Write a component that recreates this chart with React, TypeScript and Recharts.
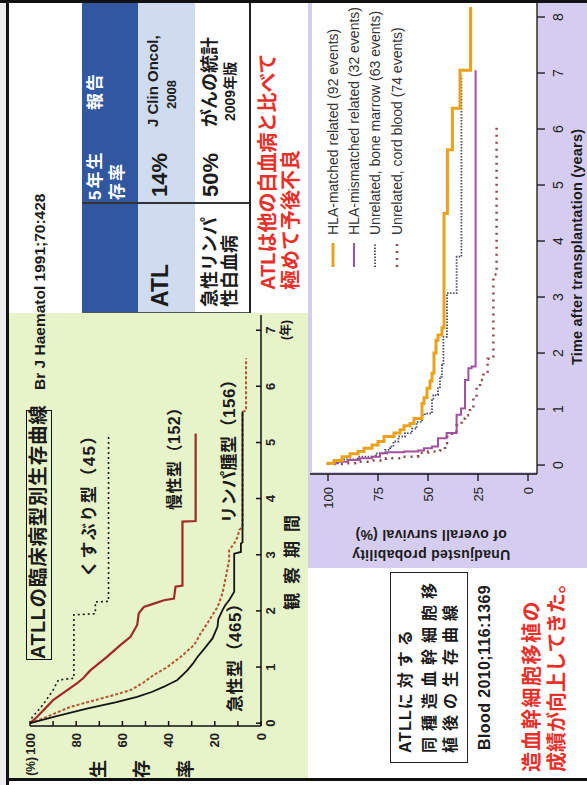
import React from 'react';
import { LineChart, Line, XAxis, YAxis } from 'recharts';

// ---------- Chart 1: ATLL clinical subtypes (years, survival %) ----------
const ATL_YEARS = [0, 1, 2, 3, 4, 5, 6, 7];
const ATL_PCT = [0, 10, 20, 30, 40, 50, 60, 70, 80, 90, 100];

const ACUTE_T = [0, 0.13, 0.26, 0.37, 0.47, 0.56, 0.65, 0.77, 0.94, 1.06, 1.18, 1.36, 1.51, 1.72, 1.85, 2.01, 2.1, 2.19, 2.34, 3.02, 3.05, 3.2, 3.22, 5.55];
const ACUTE_S = [100, 88, 75.4, 63, 53.6, 47, 42, 36.2, 31.9, 29.5, 27.5, 23.9, 21, 18.8, 18.5, 16.7, 15.5, 13.8, 11.6, 11.6, 8.7, 8.7, 8, 8];

const CHRONIC_T = [0, 0.11, 0.41, 0.71, 0.8, 0.94, 1.18, 1.39, 1.54, 1.75, 1.96, 2.07, 2.13, 2.19, 2.22, 2.43, 2.45, 3.59, 3.6, 5.16];
const CHRONIC_S = [100, 97, 90, 79.7, 77, 73.9, 66.7, 60.9, 56.5, 53.6, 52.9, 50.7, 46.4, 42, 37.7, 37, 34, 34, 28.3, 28.3];

const LYMPH_T = [0, 0.09, 0.29, 0.5, 0.59, 0.72, 0.86, 1.0, 1.18, 1.39, 1.6, 1.78, 1.93, 2.07, 2.31, 2.61, 2.9, 3.08, 3.2, 3.32, 3.44, 3.5, 5.55, 5.56, 6.5];
const LYMPH_S = [100, 94, 82.6, 63.8, 56.5, 51, 46.4, 40.6, 34.8, 29, 26.1, 23.2, 21, 18.8, 16.7, 15.2, 13.8, 13.8, 11.6, 10.1, 9.4, 8, 8, 6.5, 6.5];

const SMOLD_T = [0, 0.11, 0.2, 0.35, 0.5, 0.59, 0.77, 0.8, 1.93, 1.95, 2.16, 2.17, 5.13];
const SMOLD_S = [100, 99, 97, 94, 91.5, 90, 87.7, 81, 81, 71.7, 71.7, 66, 66];

// ---------- Chart 2: allogeneic HSCT (years, survival %) ----------
const HSCT_YEARS = [0, 1, 2, 3, 4, 5, 6, 7, 8];
const HSCT_PCT = [0, 25, 50, 75, 100];

const MATCHED_T = [0, 0.03, 0.08, 0.15, 0.2, 0.24, 0.3, 0.36, 0.42, 0.51, 0.57, 0.63, 0.7, 0.74, 0.83, 1.1, 1.2, 1.37, 1.5, 1.64, 2.0, 2.23, 2.32, 2.45, 4.49, 5.63, 6.37, 7.05, 8.18];
const MATCHED_S = [100, 97, 93, 89, 85, 82, 78, 75, 72, 67, 64, 62, 59, 57, 53, 52, 50.5, 49, 48, 47, 46, 45, 43, 42, 40.3, 37.8, 34, 28.7, 28.7];

const MISMATCHED_T = [0, 0.03, 0.06, 0.09, 0.12, 0.15, 0.21, 0.23, 0.24, 0.26, 0.3, 0.33, 0.48, 0.57, 0.9, 1.01, 1.52, 1.73, 1.76, 7.05];
const MISMATCHED_S = [100, 95, 90, 84, 78, 74, 70.5, 62, 55, 52, 48, 45, 40.7, 35.7, 33.5, 31.5, 29.8, 28.2, 26.2, 26.2];

const MARROW_T = [0, 0.03, 0.06, 0.1, 0.15, 0.21, 0.27, 0.33, 0.42, 0.51, 0.57, 0.65, 0.77, 0.89, 0.92, 1.16, 1.25, 1.37, 1.58, 1.79, 2.29, 3.07, 3.72, 6.95];
const MARROW_S = [100, 96, 93, 85, 76, 71.5, 69, 67.3, 64.8, 61.5, 58, 55.7, 53, 51.5, 48, 47.3, 45, 44, 43, 42.3, 40.5, 35.7, 33.3, 33.3];

const CORD_T = [0, 0.02, 0.03, 0.06, 0.08, 0.12, 0.15, 0.22, 0.24, 0.26, 0.39, 0.51, 0.6, 0.71, 0.83, 0.89, 1.01, 1.22, 1.4, 1.52, 1.64, 1.9, 3.4, 6.04];
const CORD_S = [100, 92, 86.5, 78, 71, 63, 55, 50, 44, 41.5, 40.5, 38, 35.7, 33.2, 31.5, 29, 27.3, 25.7, 24, 22.3, 20.2, 17.3, 15.7, 15.7];

const HSCT_LEGEND = [
  'HLA-matched related (92 events)',
  'HLA-mismatched related (32 events)',
  'Unrelated, bone marrow (63 events)',
  'Unrelated, cord blood (74 events)',
];

const zip = (ts: number[], ss: number[]) => ts.map((t, i) => ({ t, s: ss[i] }));

const FONT = '"Liberation Sans", Arial, "Noto Sans CJK JP", sans-serif';
const GREEN = '#e7f3c9';
const LAV = '#d5cdef';
const RED = '#e8302a';
const INK = '#1b1b1b';

type TP = {
  u: number; v: number; size: number; children: React.ReactNode;
  color?: string; weight?: number; ls?: number; center?: boolean;
};
const Txt = ({ u, v, size, children, color = INK, weight = 700, ls = 0, center = false }: TP) => (
  <div
    style={{
      position: 'absolute', left: u, top: v - size * 0.6, fontSize: size,
      lineHeight: `${size * 1.2}px`, height: size * 1.2, color, fontWeight: weight,
      letterSpacing: ls, whiteSpace: 'nowrap', fontFamily: FONT,
      transform: center ? 'translateX(-50%)' : undefined,
    }}
  >
    {children}
  </div>
);

const Chart1YTick = (props: any) => {
  const { x, y, payload } = props;
  const val = payload.value;
  if (val % 20 !== 0) return <g />;
  return (
    <g>
      <text x={x} y={y} dy={4.5} textAnchor="end" fontSize={13} fontWeight={700} fill="#222" fontFamily={FONT}>{val}</text>
      {val === 100 && (
        <text x={x - 24} y={y} dy={4.5} textAnchor="end" fontSize={12} fontWeight={700} fill="#222" fontFamily={FONT}>(%)</text>
      )}
    </g>
  );
};

const Box = ({ l, t, w, h, bg, style }: { l: number; t: number; w: number; h: number; bg?: string; style?: React.CSSProperties }) => (
  <div style={{ position: 'absolute', left: l, top: t, width: w, height: h, background: bg, ...style }} />
);

function LegendSample({ i }: { i: number }) {
  const common = { x1: 0, y1: 5, x2: 24, y2: 5 };
  return (
    <svg width={24} height={10} style={{ display: 'block' }}>
      {i === 0 && <line {...common} stroke="#e9a21a" strokeWidth={3} />}
      {i === 1 && <line {...common} stroke="#a3519f" strokeWidth={2} />}
      {i === 2 && <line {...common} stroke="#4a4a6a" strokeWidth={1.8} strokeDasharray="1.5 1.5" />}
      {i === 3 && <line {...common} stroke="#8c4b4b" strokeWidth={2.5} strokeDasharray="2 5" />}
    </svg>
  );
}

export default function App() {
  const axis1 = { stroke: '#111', strokeWidth: 1.5 };
  const axis2 = { stroke: '#111', strokeWidth: 1.3 };
  return (
    <div style={{ position: 'fixed', left: 0, top: 0, width: 587, height: 785, overflow: 'hidden', background: '#fff' }}>
      <div
        style={{
          position: 'absolute', left: 0, top: 0, width: 785, height: 587,
          transformOrigin: '0 0', transform: 'translate(0px, 785px) rotate(-90deg)',
          background: '#fff', overflow: 'hidden', fontFamily: FONT,
        }}
      >
        {/* panels */}
        <Box l={0} t={0} w={785} h={6} bg="#ededed" />
        <Box l={7} t={8} w={465} h={300} bg={GREEN} />
        <Box l={217} t={308} w={566} h={279} bg={LAV} />
        <Box l={313} t={312} w={470} h={225} bg="#fff" />

        {/* table */}
        <Box l={472} t={82} w={312} h={56} bg="#3157a0" />
        <Box l={472} t={138} w={312} h={57} bg="#cfdbef" />
        <Box l={472} t={195} w={312} h={55} bg="#fff" />
        <Box l={472} t={82} w={1} h={168} bg="#555" />
        <Box l={581} t={82} w={1.5} h={168} bg="#333" />
        <Box l={472} t={249} w={312} h={1.5} bg="#222" />
        <Txt u={585} v={96} size={17} color="#fff" ls={2}>5年生</Txt>
        <Txt u={585} v={118} size={17} color="#fff" ls={2}>存率</Txt>
        <Txt u={675} v={96} size={17} color="#fff" ls={2}>報告</Txt>
        <Txt u={478} v={161} size={23}>ATL</Txt>
        <Txt u={588} v={160} size={22}>14%</Txt>
        <Txt u={658} v={153} size={15}>J Clin Oncol,</Txt>
        <Txt u={676} v={172} size={13}>2008</Txt>
        <Txt u={478} v={211} size={18}>急性リンパ</Txt>
        <Txt u={478} v={231} size={18}>性白血病</Txt>
        <Txt u={588} v={211} size={22}>50%</Txt>
        <Txt u={658} v={211} size={18}>がんの統計</Txt>
        <Txt u={664} v={230} size={14}>2009年版</Txt>

        <Txt u={495} v={268} size={20} color={RED}>ATLは他の白血病と比べて</Txt>
        <Txt u={495} v={291} size={20} color={RED}>極めて予後不良</Txt>

        <Txt u={395} v={40} size={15.5}>Br J Haematol 1991;70:428</Txt>

        {/* chart 1 title box */}
        <div
          style={{
            position: 'absolute', left: 125, top: 26, width: 250, height: 26, boxSizing: 'border-box',
            border: '1.5px solid #111', fontSize: 19.5, fontWeight: 700, lineHeight: '23px', textAlign: 'center',
            letterSpacing: 0.8, color: INK, whiteSpace: 'nowrap', fontFamily: FONT,
          }}
        >
          ATLLの臨床病型別生存曲線
        </div>

        {/* chart 1 */}
        <div style={{ position: 'absolute', left: 0, top: 0 }}>
          <LineChart width={500} height={310} margin={{ top: 30, right: 30, bottom: 19, left: 0 }}>
            <XAxis
              type="number" dataKey="t" domain={[-0.05, 7.27]} ticks={ATL_YEARS} interval={0} allowDataOverflow
              height={30} tickSize={-5} tickMargin={10} axisLine={axis1} tickLine={axis1}
              tick={{ fill: '#222', fontSize: 13, fontWeight: 700, fontFamily: FONT }}
            />
            <YAxis
              type="number" domain={[0, 100]} ticks={ATL_PCT} interval={0} allowDataOverflow
              width={59} tickSize={-5} tickMargin={12} axisLine={axis1} tickLine={axis1} tick={<Chart1YTick />}
            />
            <Line data={zip(SMOLD_T, SMOLD_S)} dataKey="s" type="linear" stroke="#1a1a1a" strokeWidth={1.6} strokeDasharray="2 3" dot={false} isAnimationActive={false} />
            <Line data={zip(LYMPH_T, LYMPH_S)} dataKey="s" type="linear" stroke="#b5552f" strokeWidth={2} strokeDasharray="3 2" dot={false} isAnimationActive={false} />
            <Line data={zip(CHRONIC_T, CHRONIC_S)} dataKey="s" type="linear" stroke="#9e2b25" strokeWidth={2.2} dot={false} isAnimationActive={false} />
            <Line data={zip(ACUTE_T, ACUTE_S)} dataKey="s" type="linear" stroke="#151515" strokeWidth={1.8} dot={false} isAnimationActive={false} />
          </LineChart>
        </div>

        {/* chart 1 labels */}
        <Txt u={208} v={90} size={17} ls={1.5}>くすぶり型（45）</Txt>
        <Txt u={275} v={175} size={16} ls={0.5}>慢性型（152）</Txt>
        <Txt u={262} v={230} size={17} ls={0.5}>リンパ腫型（156）</Txt>
        <Txt u={73} v={236} size={17} ls={0.5}>急性型（465）</Txt>
        <Txt u={16} v={100} size={18} center>生</Txt>
        <Txt u={16} v={143} size={18} center>存</Txt>
        <Txt u={16} v={187} size={18} center>率</Txt>
        <Txt u={175} v={293} size={17} ls={9}>観察期間</Txt>
        <Txt u={455} v={286} size={12} center>(年)</Txt>

        {/* chart 2 */}
        <div style={{ position: 'absolute', left: 200, top: 290 }}>
          <LineChart width={600} height={297} margin={{ top: 20, right: 4, bottom: 10, left: 0 }}>
            <XAxis
              type="number" dataKey="t" domain={[-0.16, 8.5]} ticks={HSCT_YEARS} interval={0} allowDataOverflow
              height={40} tickSize={8} tickMargin={8} axisLine={axis2} tickLine={axis2}
              tick={{ fill: '#222', fontSize: 14, fontFamily: FONT }}
            />
            <YAxis
              type="number" domain={[-4.5, 109]} ticks={HSCT_PCT} interval={0} allowDataOverflow
              width={111} tickSize={7} tickMargin={6} axisLine={axis2} tickLine={axis2}
              tick={{ fill: '#222', fontSize: 13, fontFamily: FONT }}
            />
            <Line data={zip(CORD_T, CORD_S)} dataKey="s" type="stepAfter" stroke="#8c4b4b" strokeWidth={2.5} strokeDasharray="2 5" dot={false} isAnimationActive={false} />
            <Line data={zip(MARROW_T, MARROW_S)} dataKey="s" type="stepAfter" stroke="#4a4a6a" strokeWidth={1.8} strokeDasharray="1.5 1.5" dot={false} isAnimationActive={false} />
            <Line data={zip(MISMATCHED_T, MISMATCHED_S)} dataKey="s" type="stepAfter" stroke="#a3519f" strokeWidth={2} dot={false} isAnimationActive={false} />
            <Line data={zip(MATCHED_T, MATCHED_S)} dataKey="s" type="stepAfter" stroke="#e9a21a" strokeWidth={3} dot={false} isAnimationActive={false} />
          </LineChart>
        </div>

        {/* chart 2 legend */}
        <div style={{ position: 'absolute', left: 518, top: 322 }}>
          {HSCT_LEGEND.map((name, i) => (
            <div key={name} style={{ display: 'flex', alignItems: 'center', height: 21.3 }}>
              <LegendSample i={i} />
              <span style={{ marginLeft: 8, fontSize: 14, color: '#333', whiteSpace: 'nowrap', fontFamily: FONT }}>{name}</span>
            </div>
          ))}
        </div>

        {/* chart 2 axis titles */}
        <div style={{ position: 'absolute', left: 230, top: 431, transform: 'translate(-50%, -50%) rotate(-90deg)', fontSize: 14, fontWeight: 700, whiteSpace: 'nowrap', color: INK, lineHeight: '16px', letterSpacing: 0.3 }}>
          Unadjusted probability
        </div>
        <div style={{ position: 'absolute', left: 250, top: 431, transform: 'translate(-50%, -50%) rotate(-90deg)', fontSize: 14, fontWeight: 700, whiteSpace: 'nowrap', color: INK, lineHeight: '16px', letterSpacing: 0.3 }}>
          of overall survival (%)
        </div>
        <div style={{ position: 'absolute', left: 420, top: 570, fontSize: 14.5, fontWeight: 700, whiteSpace: 'nowrap', color: INK, lineHeight: '15px', letterSpacing: 0.2 }}>
          Time after transplantation (years)
        </div>

        {/* bottom-left texts */}
        <div style={{ position: 'absolute', left: 22, top: 390, width: 191, height: 78, boxSizing: 'border-box', border: '1.5px solid #222' }} />
        <Txt u={32} v={406} size={16} ls={5}><span style={{ letterSpacing: 1 }}>ATLL</span>に対する</Txt>
        <Txt u={32} v={430} size={16} ls={6}>同種造血幹細胞移</Txt>
        <Txt u={32} v={451} size={16} ls={6}>植後の生存曲線</Txt>
        <Txt u={35} v={485} size={16} ls={0.4}>Blood 2010;116:1369</Txt>
        <Txt u={13} v={532} size={20} color={RED} ls={1.5}>造血幹細胞移植の</Txt>
        <Txt u={13} v={557} size={20} color={RED}>成績が向上してきた。</Txt>

        {/* frame */}
        <Box l={0} t={6} w={785} h={2.5} bg="#111" />
        <Box l={4} t={6} w={3} h={581} bg="#111" />
        <Box l={782} t={0} w={3} h={587} bg="#111" />
      </div>
    </div>
  );
}
